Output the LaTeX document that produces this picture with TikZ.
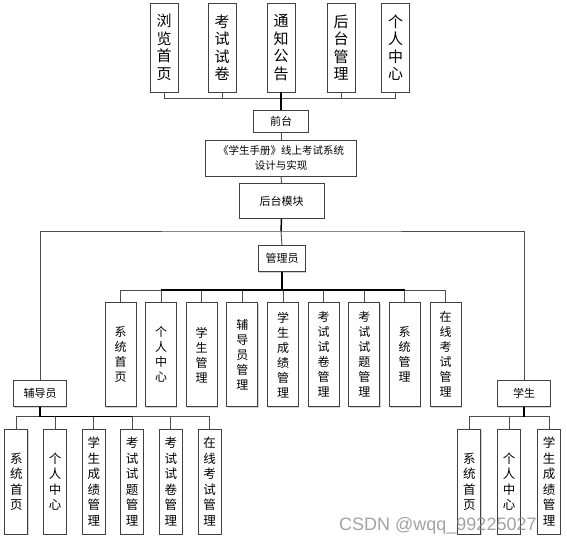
\documentclass[tikz,border=0pt]{standalone}
\usepackage{fontspec}
\newfontfamily\cjk{Noto Sans CJK SC}
\newfontfamily\wmfont{Liberation Sans}
\usetikzlibrary{shadows}
\tikzset{
  box/.style={draw=black!75, line width=0.8pt, fill=white, inner sep=0pt, align=center,
    drop shadow={shadow xshift=0.8pt, shadow yshift=-0.8pt, opacity=0.35, fill=black!50}},
  topbox/.style={box, minimum width=28pt, minimum height=89pt, font=\cjk\fontsize{15}{17.5}\selectfont},
  hbox/.style={box, font=\cjk\fontsize{11}{15.5}\selectfont},
  mbox/.style={box, minimum width=31pt, minimum height=104pt, font=\cjk\fontsize{12}{15}\selectfont},
  sbox/.style={box, minimum width=23pt, minimum height=105pt, font=\cjk\fontsize{12.5}{15.5}\selectfont},
  conn/.style={draw=black!70, line width=0.9pt},
  trunk/.style={draw=black, line width=1.5pt},
}
\begin{document}
\begin{tikzpicture}[x=1pt,y=-1pt]
\useasboundingbox (0,0) rectangle (567,543);
% top row
\node[topbox] (t1) at (164,47.5) {浏\\览\\首\\页};
\node[topbox] (t2) at (222,47.5) {考\\试\\试\\卷};
\node[topbox] (t3) at (281,47.5) {通\\知\\公\\告};
\node[topbox] (t4) at (341,47.5) {后\\台\\管\\理};
\node[topbox] (t5) at (395.5,47.5) {个\\人\\中\\心};
% centre column
\node[hbox, minimum width=55pt, minimum height=22pt] (qt) at (281,121) {前台};
\node[hbox, minimum width=151pt, minimum height=36pt, font=\cjk\fontsize{10.5}{15.5}\selectfont] (sys) at (281,158) {《学生手册》线上考试系统\\设计与实现};
\node[hbox, minimum width=85pt, minimum height=35pt] (ht) at (281.5,201) {后台模块};
\node[hbox, minimum width=47pt, minimum height=26pt] (gly) at (282,258.7) {管理员};
% role boxes
\node[hbox, minimum width=53pt, minimum height=26pt] (fdy) at (40,393.7) {辅导员};
\node[hbox, minimum width=53pt, minimum height=26pt] (xs) at (524,393.7) {学生};
% manager children
\node[mbox] (m1) at (120.5,354.7) {系\\统\\首\\页};
\node[mbox] (m2) at (161,354.7) {个\\人\\中\\心};
\node[mbox] (m3) at (201.7,354.7) {学\\生\\管\\理};
\node[mbox] (m4) at (242.3,354.7) {辅\\导\\员\\管\\理};
\node[mbox] (m5) at (283,354.7) {学\\生\\成\\绩\\管\\理};
\node[mbox] (m6) at (323.7,354.7) {考\\试\\试\\卷\\管\\理};
\node[mbox] (m7) at (364.3,354.7) {考\\试\\试\\题\\管\\理};
\node[mbox] (m8) at (404.7,354.7) {系\\统\\管\\理};
\node[mbox] (m9) at (445.5,354.7) {在\\线\\考\\试\\管\\理};
% tutor children
\node[sbox] (f1) at (16.3,481.7) {系\\统\\首\\页};
\node[sbox] (f2) at (55,481.7) {个\\人\\中\\心};
\node[sbox] (f3) at (93.8,481.7) {学\\生\\成\\绩\\管\\理};
\node[sbox] (f4) at (132,481.7) {考\\试\\试\\题\\管\\理};
\node[sbox] (f5) at (170.8,481.7) {考\\试\\试\\卷\\管\\理};
\node[sbox] (f6) at (209.7,481.7) {在\\线\\考\\试\\管\\理};
% student children
\node[sbox] (s1) at (469.3,481.7) {系\\统\\首\\页};
\node[sbox] (s2) at (509,481.7) {个\\人\\中\\心};
\node[sbox] (s3) at (549,481.7) {学\\生\\成\\绩\\管\\理};
% bus coordinates
\coordinate (tb) at (281,98.5);
\coordinate (hb) at (281,231);
\coordinate (mb) at (282,290);
\coordinate (fb) at (40,416.7);
\coordinate (sb) at (524,416.7);
% top bus
\draw[conn] (t1.south) |- (tb) -| (t5.south);
\draw[conn] (t2.south) -- (t2.south |- tb);
\draw[conn] (t4.south) -- (t4.south |- tb);
\draw[trunk] (t3.south) -- (qt.north);
\draw[conn] (qt.south) -- (sys.north);
\draw[conn] (sys.south) -- (ht.north);
\draw[trunk] (ht.south) -- (hb);
\draw[conn] (hb) -- (gly.north);
\draw[conn] (fdy.north) |- (hb) -| (xs.north);
% manager bus
\draw[conn] (m1.north) |- (mb) -| (m9.north);
\foreach \n in {m2,m3,m4,m5,m6,m7,m8} \draw[conn] (\n.north) -- (\n.north |- mb);
\draw[trunk] (gly.south) -- (mb);
\draw[trunk] (m2.north |- mb) -- (m8.north |- mb);
% tutor bus
\draw[conn] (f1.north) |- (fb) -| (f6.north);
\foreach \n in {f2,f3,f4,f5} \draw[conn] (\n.north) -- (\n.north |- fb);
\draw[trunk] (fdy.south) -- (fb);
\draw[trunk] (fb) -- (f4.north |- fb);
% student bus
\draw[conn] (s1.north) |- (sb) -| (s3.north);
\draw[conn] (s2.north) -- (s2.north |- sb);
\draw[trunk] (xs.south) -- (sb);
% watermark
\node[anchor=base west, inner sep=0pt, text=black!45, opacity=0.8, font=\wmfont\fontsize{18}{20}\selectfont] (wm) at (339,530) {CSDN @wqq\_99225027};
\end{tikzpicture}
\end{document}
